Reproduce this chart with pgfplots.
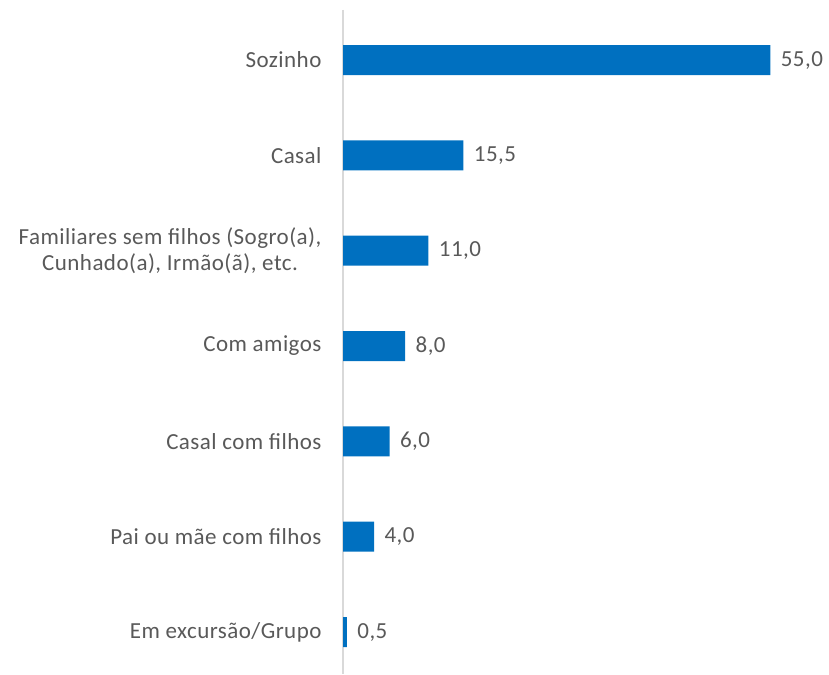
\documentclass[border=0pt]{standalone}
\usepackage{fontspec}
\setmainfont{Carlito}
\newfontfamily\lbl[LetterSpace=2]{Carlito}
\usepackage{pgfplots}
\pgfplotsset{compat=1.18}
\definecolor{barblue}{HTML}{0070C0}
\definecolor{txtgray}{HTML}{595959}
\definecolor{axgray}{HTML}{D9D9D9}
\begin{document}
\begin{tikzpicture}
\useasboundingbox (0,0) rectangle (829pt,674pt);
\begin{axis}[
  at={(343pt,0pt)}, anchor=south west,
  scale only axis,
  width=481.7pt, height=664pt,
  xbar, bar width=30pt,
  xmin=0, xmax=62,
  ymin=-0.525, ymax=6.44,
  y dir=reverse,
  axis x line=none,
  axis y line*=left,
  y axis line style={axgray, line width=1.3pt, -},
  ytick={0,1,2,3,4,5,6},
  yticklabels={Sozinho,Casal,{Familiares sem filhos (Sogro(a),\\Cunhado(a), Irmão(ã), etc.},Com amigos,Casal com filhos,Pai ou mãe com filhos,Em excursão/Grupo},
  major tick length=0pt,
  yticklabel style={align=center, font=\lbl\fontsize{23}{26}\selectfont, text=txtgray, xshift=-18pt},
  nodes near coords,
  nodes near coords style={font=\lbl\fontsize{23}{26}\selectfont, text=txtgray, xshift=7pt},
  /pgf/number format/.cd, fixed, fixed zerofill, precision=1, use comma, assume math mode=true,
]
\addplot[fill=barblue, draw=none] coordinates {
(55.0,0) (15.5,1) (11.0,2) (8.0,3) (6.0,4) (4.0,5) (0.5,6)
};
\end{axis}
\end{tikzpicture}
\end{document}
